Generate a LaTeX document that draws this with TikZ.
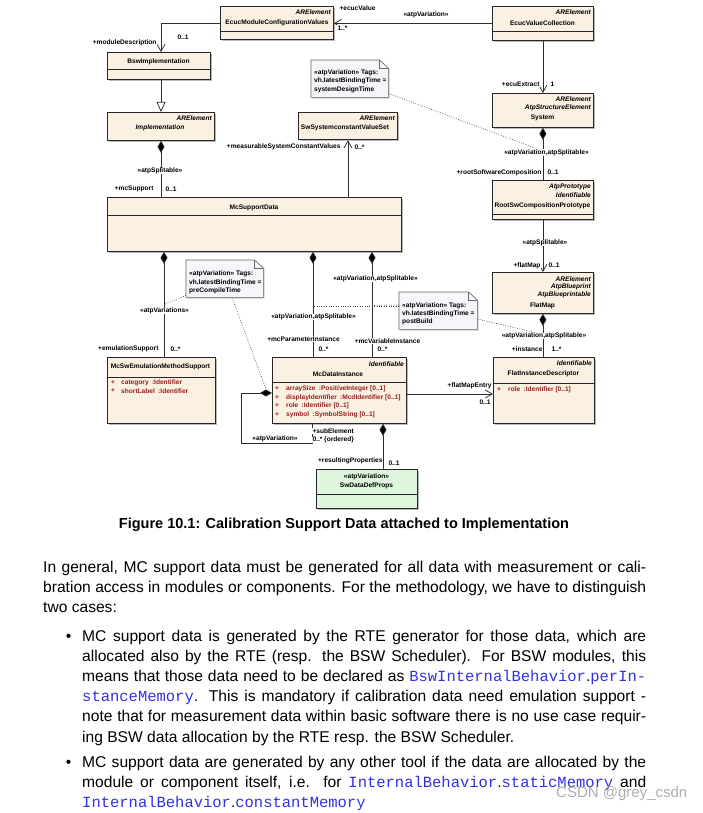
\documentclass[tikz,border=0pt]{standalone}
\usepackage{fontspec}
\setmainfont{Liberation Sans}
\setmonofont{Liberation Mono}
\usetikzlibrary{arrows.meta,shadows,calc}
\definecolor{clsfill}{RGB}{251,241,226}
\definecolor{grnfill}{RGB}{221,246,220}
\definecolor{notefill}{RGB}{247,244,250}
\definecolor{attrred}{RGB}{150,30,30}
\definecolor{codeblue}{RGB}{50,50,225}
\definecolor{wmgray}{RGB}{175,175,175}
\definecolor{linegray}{RGB}{45,45,45}
\newcommand\dfont{\fontsize{6.6}{7.6}\selectfont\bfseries}
\newcommand\cde[1]{\textcolor{codeblue}{\fontsize{15.5}{17}\selectfont\ttfamily #1}}
\tikzset{
  cls/.style={draw=black!85, line width=0.8pt, fill=clsfill, inner sep=0pt, anchor=north west,
    drop shadow={shadow xshift=1.2pt,shadow yshift=-1.2pt,fill=black!45,opacity=0.6}},
  grncls/.style={cls, fill=grnfill},
  divline/.style={draw=black!85, line width=0.7pt},
  dtext/.style={font=\dfont, inner sep=0pt, text=black},
  stereo/.style={font=\dfont\itshape, inner sep=0pt, anchor=east},
  attr/.style={font=\dfont, text=attrred, inner sep=0pt, anchor=west},
  lbl/.style={font=\dfont, inner sep=0.3pt, fill=white},
  conn/.style={draw=linegray, line width=0.75pt},
  assoc/.style={conn, -{Straight Barb[length=7pt,width=8pt,line width=0.75pt]}},
  gen/.style={conn, -{Triangle[open, length=10pt, width=9pt, fill=white]}},
  comp/.style={conn, {Diamond[length=12pt, width=7pt, fill=black]}-},
  dots/.style={draw=black!75, line width=0.6pt, dash pattern=on 0.8pt off 1.6pt},
  notebox/.style={inner sep=0pt, anchor=north west},
  noteline/.style={draw=black!60, line width=0.6pt, fill=notefill,
    drop shadow={shadow xshift=1.2pt,shadow yshift=-1.2pt,fill=black!40,opacity=0.5}},
  notetext/.style={font=\dfont, inner sep=0pt, anchor=west},
  body/.style={font=\fontsize{15.6}{18}\selectfont, inner sep=0pt, anchor=base west},
}
\begin{document}
\begin{tikzpicture}[x=1pt,y=-1pt]
\useasboundingbox (0,0) rectangle (703,813);
\fill[white] (0,0) rectangle (703,813);

% ---------- class boxes ----------
\node[cls, minimum width=113pt, minimum height=33pt] (ecmc) at (220,6) {};
\draw[divline] ([yshift=-25pt]ecmc.north west) -- ([yshift=-25pt]ecmc.north east);
\node[stereo] (ecmcs) at (331,12) {ARElement};
\node[dtext] (ecmcn) at (277,23) {EcucModuleConfigurationValues};

\node[cls, minimum width=101pt, minimum height=34pt] (evc) at (492,6) {};
\draw[divline] ([yshift=-25pt]evc.north west) -- ([yshift=-25pt]evc.north east);
\node[stereo] (evcs) at (591,12) {ARElement};
\node[dtext] (evcn) at (542.5,23) {EcucValueCollection};

\node[cls, minimum width=103pt, minimum height=27pt] (bsw) at (107,52) {};
\draw[divline] ([yshift=-17pt]bsw.north west) -- ([yshift=-17pt]bsw.north east);
\node[dtext] (bswn) at (158.5,62) {BswImplementation};

\node[cls, minimum width=107pt, minimum height=28pt] (impl) at (107,112) {};
\node[stereo] (impls) at (212,118) {ARElement};
\node[dtext, font=\dfont\itshape] (impln) at (160,128) {Implementation};

\node[cls, minimum width=99pt, minimum height=27.5pt] (ssc) at (298,112) {};
\node[stereo] (sscs) at (395,118) {ARElement};
\node[dtext] (sscn) at (345,128) {SwSystemconstantValueSet};

\node[cls, minimum width=101pt, minimum height=34pt] (sys) at (492,93) {};
\node[stereo] (syss1) at (591,99) {ARElement};
\node[stereo] (syss2) at (591,107.5) {AtpStructureElement};
\node[dtext] (sysn) at (542.5,118) {System};

\node[cls, minimum width=101pt, minimum height=38.5pt] (root) at (492,180.5) {};
\draw[divline] ([yshift=-34pt]root.north west) -- ([yshift=-34pt]root.north east);
\node[stereo] (roots1) at (591,187) {AtpPrototype};
\node[stereo] (roots2) at (591,195) {Identifiable};
\node[dtext] (rootn) at (542.5,206) {RootSwCompositionPrototype};

\node[cls, minimum width=101pt, minimum height=41pt] (fm) at (492,272) {};
\node[stereo] (fms1) at (591,279) {ARElement};
\node[stereo] (fms2) at (591,287) {AtpBlueprint};
\node[stereo] (fms3) at (591,295) {AtpBlueprintable};
\node[dtext] (fmn) at (542.5,306) {FlatMap};

\node[cls, minimum width=101pt, minimum height=66pt] (fid) at (493,357) {};
\draw[divline] ([yshift=-26pt]fid.north west) -- ([yshift=-26pt]fid.north east);
\node[stereo] (fids) at (592,363) {Identifiable};
\node[dtext] (fidn) at (543.5,374) {FlatInstanceDescriptor};
\node[attr] (fida1p) at (497,390) {+};
\node[attr] (fida1) at (508,390) {role\enspace:Identifier [0..1]};

\node[cls, minimum width=294pt, minimum height=54pt] (mcs) at (107,197) {};
\draw[divline] ([yshift=-18.5pt]mcs.north west) -- ([yshift=-18.5pt]mcs.north east);
\node[dtext] (mcsn) at (254,208) {McSupportData};

\node[cls, minimum width=108pt, minimum height=66pt] (emu) at (107,357) {};
\draw[divline] ([yshift=-20pt]emu.north west) -- ([yshift=-20pt]emu.north east);
\node[dtext] (emun) at (160.5,367) {McSwEmulationMethodSupport};
\node[attr] (emua1p) at (111,383) {+};
\node[attr] (emua1) at (121,383) {category\enspace:Identifier};
\node[attr] (emua2p) at (111,391) {+};
\node[attr] (emua2) at (121,391) {shortLabel\enspace:Identifier};

\node[cls, minimum width=134pt, minimum height=66pt] (mdi) at (272,357) {};
\draw[divline] ([yshift=-25pt]mdi.north west) -- ([yshift=-25pt]mdi.north east);
\node[stereo] (mdis) at (404,364) {Identifiable};
\node[dtext] (mdin) at (338,374) {McDataInstance};
\node[attr] (mdia1p) at (275,389) {+};
\node[attr] (mdia1) at (286,389) {arraySize\enspace:PositiveInteger [0..1]};
\node[attr] (mdia2p) at (275,397.5) {+};
\node[attr] (mdia2) at (286,397.5) {displayIdentifier\enspace:McdIdentifier [0..1]};
\node[attr] (mdia3p) at (275,406) {+};
\node[attr] (mdia3) at (286,406) {role\enspace:Identifier [0..1]};
\node[attr] (mdia4p) at (275,415) {+};
\node[attr] (mdia4) at (286,415) {symbol\enspace:SymbolString [0..1]};

\node[grncls, minimum width=101pt, minimum height=39pt] (sdp) at (316,469) {};
\draw[divline] ([yshift=-25pt]sdp.north west) -- ([yshift=-25pt]sdp.north east);
\node[dtext] (sdps) at (366.5,477) {«atpVariation»};
\node[dtext] (sdpn) at (366.5,486) {SwDataDefProps};

% ---------- notes ----------
\node[notebox, minimum width=77pt, minimum height=37pt] (n1) at (311,60) {};
\path[noteline] (n1.north west) -- ([xshift=-9pt]n1.north east) -- ([yshift=-8pt]n1.north east)
  -- (n1.south east) -- (n1.south west) -- cycle;
\draw[draw=black!60, line width=0.6pt] ([xshift=-9pt]n1.north east) -- ([xshift=-9pt,yshift=-8pt]n1.north east) -- ([yshift=-8pt]n1.north east);
\node[notetext] (n1a) at (314,72.5) {«atpVariation» Tags:};
\node[notetext] (n1b) at (314,81) {vh.latestBindingTime =};
\node[notetext] (n1c) at (314,90) {systemDesignTime};

\node[notebox, minimum width=77pt, minimum height=37pt] (n2) at (186,260) {};
\path[noteline] (n2.north west) -- ([xshift=-9pt]n2.north east) -- ([yshift=-8pt]n2.north east)
  -- (n2.south east) -- (n2.south west) -- cycle;
\draw[draw=black!60, line width=0.6pt] ([xshift=-9pt]n2.north east) -- ([xshift=-9pt,yshift=-8pt]n2.north east) -- ([yshift=-8pt]n2.north east);
\node[notetext] (n2a) at (189,274) {«atpVariation» Tags:};
\node[notetext] (n2b) at (189,282.5) {vh.latestBindingTime =};
\node[notetext] (n2c) at (189,291) {preCompileTime};

\node[notebox, minimum width=78pt, minimum height=37pt] (n3) at (399,292) {};
\path[noteline] (n3.north west) -- ([xshift=-9pt]n3.north east) -- ([yshift=-8pt]n3.north east)
  -- (n3.south east) -- (n3.south west) -- cycle;
\draw[draw=black!60, line width=0.6pt] ([xshift=-9pt]n3.north east) -- ([xshift=-9pt,yshift=-8pt]n3.north east) -- ([yshift=-8pt]n3.north east);
\node[notetext] (n3a) at (402,306) {«atpVariation» Tags:};
\node[notetext] (n3b) at (402,314) {vh.latestBindingTime =};
\node[notetext] (n3c) at (402,322) {postBuild};

% ---------- connectors ----------
\draw[assoc] (ecmc.west) -| ([xshift=54pt]bsw.north west);
\draw[assoc] (evc.west) -- (evc.west -| ecmc.east);
\draw[assoc] (evc.south) -- (sys.north);
\draw[gen] ([xshift=54pt]bsw.south west) -- ([xshift=54pt]impl.north west);
\draw[comp] ([xshift=54pt]impl.south west) -- ([xshift=54pt]mcs.north west);
\draw[assoc] (ssc.south |- mcs.north) -- (ssc.south);
\draw[comp] (sys.south) -- (root.north);
\draw[assoc] (root.south) -- (fm.north);
\draw[comp] (fm.south) -- (fm.south |- fid.north);
\draw[comp] ([xshift=57pt]mcs.south west) -- ([xshift=57pt]emu.north west);
\draw[comp] ([xshift=206pt]mcs.south west) -- ([xshift=41pt]mdi.north west);
\draw[comp] ([xshift=265pt]mcs.south west) -- ([xshift=100pt]mdi.north west);
\draw[comp] ([yshift=-36pt]mdi.north west) -- ++(-31,0) -- ++(0,50) -| ([xshift=40pt]mdi.south west);
\draw[assoc] ([yshift=-37pt]mdi.north east) -- ([yshift=-37pt]fid.north west);
\draw[comp] ([xshift=111pt]mdi.south west) -- ([xshift=67pt]sdp.north west);

% ---------- dotted note links ----------
\coordinate (c1) at (535,148);
\draw[dots] ([yshift=4pt]n1.south east) -- (c1);
\coordinate (c2) at (165,304);
\draw[dots] ([yshift=2pt]n2.south west) -- (c2);
\coordinate (c3) at (266,389);
\draw[dots] ([xshift=46pt]n2.south west) -- (c3);
\coordinate (c4) at (313,306);
\coordinate (c5) at (372,305.5);
\draw[dots] ([yshift=-14pt]n3.north west) -- (c4);
\draw[dots] ([yshift=-13pt]n3.north west) -- (c5);
\coordinate (c6) at (533,332);
\draw[dots] ([yshift=-27pt]n3.north east) -- (c6);

% ---------- connector labels ----------
\node[lbl, anchor=east] (l1) at (157,43) {+moduleDescription};
\node[lbl, anchor=west] (l2) at (177,37) {0..1};
\node[lbl, anchor=west] (l3) at (339,8) {+ecucValue};
\node[lbl, anchor=west] (l4) at (403,15) {«atpVariation»};
\node[lbl, anchor=west] (l5) at (337,28) {1..*};
\node[lbl, anchor=east] (l6) at (540,84) {+ecuExtract};
\node[lbl, anchor=west] (l7) at (550,84) {1};
\node[lbl] (l8) at (160,171) {«atpSplitable»};
\node[lbl, anchor=east] (l9) at (154,189) {+mcSupport};
\node[lbl, anchor=west] (l10) at (165,189) {0..1};
\node[lbl, anchor=east] (l11) at (341,147) {+measurableSystemConstantValues};
\node[lbl, anchor=west] (l12) at (354,147) {0..*};
\node[lbl] (l13) at (546.5,152.5) {«atpVariation,atpSplitable»};
\node[lbl, anchor=east] (l14) at (542,172.5) {+rootSoftwareComposition};
\node[lbl, anchor=west] (l15) at (547,172.5) {0..1};
\node[lbl] (l16) at (545,243) {«atpSplitable»};
\node[lbl, anchor=east] (l17) at (541,266) {+flatMap};
\node[lbl, anchor=west] (l18) at (548,265) {0..1};
\node[lbl] (l19) at (544,336) {«atpVariation,atpSplitable»};
\node[lbl, anchor=east] (l20) at (543,349) {+instance};
\node[lbl, anchor=west] (l21) at (551,349) {1..*};
\node[lbl] (l22) at (164.5,311) {«atpVariations»};
\node[lbl, anchor=east] (l23) at (159,349) {+emulationSupport};
\node[lbl, anchor=west] (l24) at (170,349) {0..*};
\node[lbl] (l25) at (313.5,317) {«atpVariation,atpSplitable»};
\node[lbl] (l26) at (303.5,339) {+mcParameterInstance};
\node[lbl, anchor=west] (l27) at (318,349) {0..*};
\node[lbl] (l28) at (375.5,279) {«atpVariation,atpSplitable»};
\node[lbl] (l29) at (387.5,341) {+mcVariableInstance};
\node[lbl, anchor=west] (l30) at (377,349) {0..*};
\node[lbl, anchor=east] (l31) at (492,386) {+flatMapEntry};
\node[lbl, anchor=west] (l32) at (479,402) {0..1};
\node[lbl, inner sep=0pt] (l33) at (275,439) {«atpVariation»};
\node[lbl, anchor=west] (l34) at (312,431) {+subElement};
\node[lbl, anchor=west] (l35) at (312,440) {0..* \{ordered\}};
\node[lbl, anchor=east] (l36) at (383,461) {+resultingProperties};
\node[lbl, anchor=west] (l37) at (388,463) {0..1};

% ---------- caption and text ----------
\node[font=\fontsize{14.5}{17}\selectfont\bfseries, inner sep=0pt, anchor=base] (cap) at (344,528)
  {Figure 10.1: Calibration Support Data attached to Implementation};

\node[body] (p1) at (43,572) {\makebox[603pt][s]{In general, MC support data must be generated for all data with measurement or cali-}};
\node[body] (p2) at (43,592.2) {\makebox[603pt][s]{bration access in modules or components. For the methodology, we have to distinguish}};
\node[body] (p3) at (43,612.4) {two cases:};

\node[body, anchor=base] (bul1) at (68.5,641) {•};
\node[body] (b1) at (82,641) {\makebox[564pt][s]{MC support data is generated by the RTE generator for those data, which are}};
\node[body] (b2) at (82,661.2) {\makebox[564pt][s]{allocated also by the RTE (resp. the BSW Scheduler). For BSW modules, this}};
\node[body] (b3) at (82,681.4) {\makebox[564pt][s]{means that those data need to be declared as \cde{BswInternalBehavior}.\cde{perIn-}}};
\node[body] (b4) at (82,701.6) {\makebox[564pt][s]{\cde{stanceMemory}. This is mandatory if calibration data need emulation support -}};
\node[body] (b5) at (82,721.8) {\makebox[564pt][s]{note that for measurement data within basic software there is no use case requir-}};
\node[body] (b6) at (82,742) {ing BSW data allocation by the RTE resp. the BSW Scheduler.};

\node[body, anchor=base] (bul2) at (68.5,767) {•};
\node[body] (d1) at (82,767) {\makebox[564pt][s]{MC support data are generated by any other tool if the data are allocated by the}};
\node[body] (d2) at (82,787.2) {\makebox[564pt][s]{module or component itself, i.e. for \cde{InternalBehavior}.\cde{staticMemory} and}};
\node[body] (d3) at (82,807.4) {\cde{InternalBehavior}.\cde{constantMemory}};

\node[font=\fontsize{15}{17}\selectfont, text=wmgray, inner sep=0pt, anchor=base west] (wm) at (556,797) {CSDN @grey\_csdn};
\end{tikzpicture}
\end{document}
